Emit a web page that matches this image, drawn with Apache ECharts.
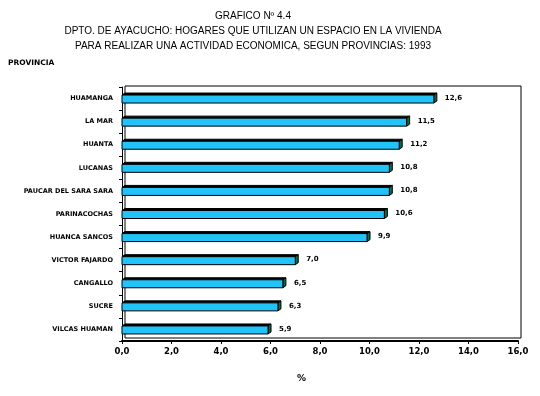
<!DOCTYPE html>
<html><head><meta charset="utf-8">
<script src="https://cdn.jsdelivr.net/npm/echarts@6/dist/echarts.min.js"></script>
<style>html,body{margin:0;padding:0;background:#fff}#c{width:540px;height:396px}</style>
</head><body><div id="c"></div>
<script>
const provincias = ["HUAMANGA","LA MAR","HUANTA","LUCANAS","PAUCAR DEL SARA SARA","PARINACOCHAS","HUANCA SANCOS","VICTOR FAJARDO","CANGALLO","SUCRE","VILCAS HUAMAN"];
const porcentajes = [12.6,11.5,11.2,10.8,10.8,10.6,9.9,7.0,6.5,6.3,5.9];
const xTicks = {min:0, max:16, interval:2};
const titleLines = ["GRAFICO Nº 4.4","DPTO. DE AYACUCHO: HOGARES QUE UTILIZAN UN ESPACIO EN LA VIVIENDA","PARA REALIZAR UNA ACTIVIDAD ECONOMICA, SEGUN PROVINCIAS: 1993"];

const fmt = v => v.toFixed(1).replace('.', ',');
const chart = echarts.init(document.getElementById('c'), null, {renderer:'canvas'});
const labelFont = 'bold 7px "DejaVu Sans", sans-serif';

chart.setOption({
  animation:false,
  backgroundColor:'#fff',
  title:{
    text: titleLines.join('\n'), left:248, top:4, textAlign:'center',
    textStyle:{fontFamily:'"Liberation Sans", Arial, sans-serif', fontSize:10, fontWeight:'normal', color:'#000', lineHeight:15}
  },
  graphic:[
    {type:'text', left:8, top:59, style:{text:'PROVINCIA', font:'bold 7.5px "DejaVu Sans", sans-serif', fill:'#000'}},
    {type:'text', left:297, top:374, style:{text:'%', font:'bold 9px "DejaVu Sans", sans-serif', fill:'#000'}}
  ],
  grid:[
    {left:122, right:22, top:87, bottom:55, containLabel:false},
    {left:125, right:19, top:86, bottom:58, show:true, borderColor:'#000', borderWidth:1, backgroundColor:'transparent'}
  ],
  xAxis:[
    {type:'value', gridIndex:0, min:xTicks.min, max:xTicks.max, interval:xTicks.interval,
     axisLine:{show:true, lineStyle:{color:'#000', width:2}},
     axisTick:{show:true, length:3, lineStyle:{color:'#000'}},
     splitLine:{show:false},
     axisLabel:{formatter:v=>fmt(v), color:'#000', fontFamily:'"DejaVu Sans", sans-serif', fontWeight:'bold', fontSize:8.5, margin:6}},
    {type:'value', gridIndex:1, show:false, min:0, max:16}
  ],
  yAxis:[
    {type:'category', gridIndex:0, data:provincias, inverse:true,
     axisLine:{show:true, lineStyle:{color:'#000', width:1}},
     axisTick:{show:true, length:3, lineStyle:{color:'#000'}},
     axisLabel:{color:'#000', fontFamily:'"DejaVu Sans", sans-serif', fontWeight:'bold', fontSize:6.5, margin:9}},
    {type:'category', gridIndex:1, show:false, data:provincias}
  ],
  series:[{
    type:'custom', xAxisIndex:0, yAxisIndex:0,
    data: porcentajes.map((v,i)=>[v,i]),
    encode:{x:0, y:1},
    renderItem:(params, api)=>{
      const v = api.value(0), c = api.value(1);
      const p0 = api.coord([0, c]);
      const p1 = api.coord([v, c]);
      const h = 8, dx = 3, dy = 2;
      const x0 = p0[0], x1 = p1[0];
      const y = p1[1] - h/2 + 0.5;
      return {type:'group', children:[
        {type:'polygon', shape:{points:[[x0,y],[x0+dx,y-dy],[x1+dx,y-dy],[x1,y]]}, style:{fill:'#000', stroke:'#000', lineWidth:1}},
        {type:'polygon', shape:{points:[[x1,y],[x1+dx,y-dy],[x1+dx,y+h-dy],[x1,y+h]]}, style:{fill:'#0B6B48', stroke:'#000', lineWidth:1}},
        {type:'rect', shape:{x:x0, y:y, width:x1-x0, height:h}, style:{fill:'#22C3F9', stroke:'#000', lineWidth:1}},
        {type:'text', x:x1+dx+8, y:y+h/2-1, style:{text:fmt(v), font:'bold 7px "DejaVu Sans", sans-serif', fill:'#000', verticalAlign:'middle', align:'left'}}
      ]};
    }
  }]
});
</script></body></html>
